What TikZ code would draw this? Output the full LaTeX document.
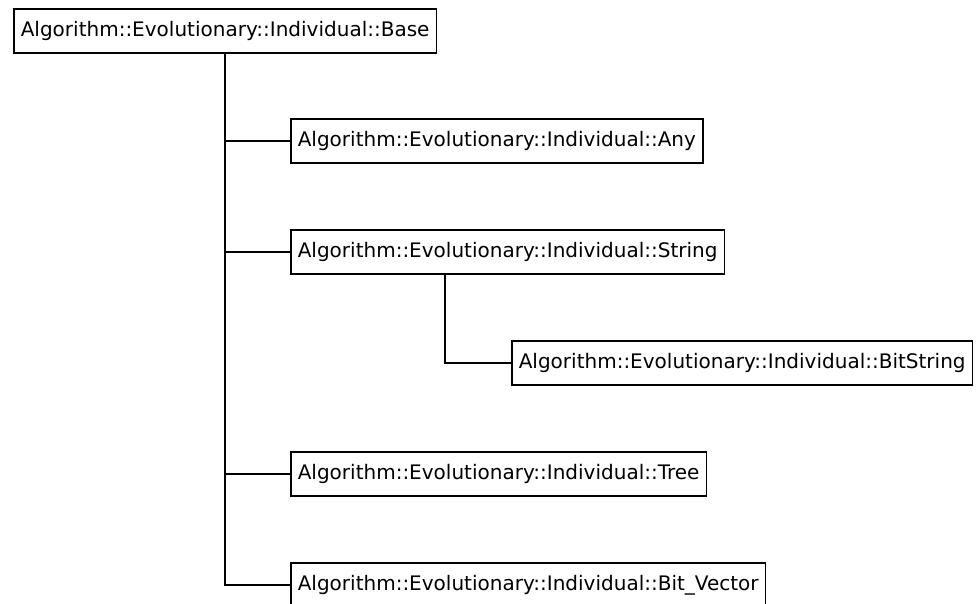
\documentclass[tikz,border=0pt]{standalone}
\usepackage{fontspec}
\setmainfont{DejaVu Sans}
\usepackage{tikz}
\usetikzlibrary{positioning,calc}

\begin{document}
\begin{tikzpicture}[x=1pt, y=-1pt,
    classbox/.style={draw, rectangle, line width=1.6pt, anchor=west, minimum height=44pt, inner xsep=7pt, font=\fontsize{20}{24}\selectfont},
    link/.style={line width=1.8pt}]
    \useasboundingbox (0,0) rectangle (976,603);
    \clip (0,0) rectangle (976,603);

    \node[classbox] (base) at (13,31) {Algorithm::Evolutionary::Individual::Base};
    \node[classbox] (any) at (290,141) {Algorithm::Evolutionary::Individual::Any};
    \node[classbox] (string) at (290,252) {Algorithm::Evolutionary::Individual::String};
    \node[classbox] (bitstring) at (511,363) {Algorithm::Evolutionary::Individual::BitString};
    \node[classbox] (tree) at (290,474) {Algorithm::Evolutionary::Individual::Tree};
    \node[classbox] (bitvector) at (290,585) {Algorithm::Evolutionary::Individual::Bit\_Vector};

    % tree connectors
    \coordinate (fork) at ($(string.south west)+(155,0)$);
    \draw[link] (base.south) |- (any.west);
    \draw[link] (base.south) |- (string.west);
    \draw[link] (base.south) |- (tree.west);
    \draw[link] (base.south) |- (bitvector.west);
    \draw[link] (fork) |- (bitstring.west);
\end{tikzpicture}
\end{document}
